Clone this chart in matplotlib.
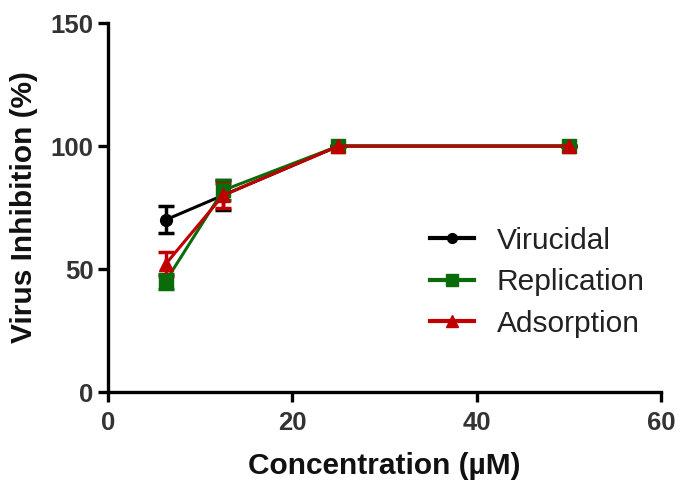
import matplotlib
matplotlib.use('Agg')
import matplotlib.pyplot as plt

plt.rcParams['font.family'] = ['Liberation Sans', 'DejaVu Sans']

conc = [6.25, 12.5, 25, 50]

virucidal = [70, 80, 100, 100]
virucidal_err = [5.5, 6, 0, 0]

replication = [45, 82, 100, 100]
replication_err = [3, 4, 0, 0]

adsorption = [52, 80, 100, 100]
adsorption_err = [5, 5, 0, 0]

fig = plt.figure(figsize=(6.81, 4.88), dpi=100)
ax = fig.add_axes([0.1586, 0.1967, 0.812, 0.756])

series = [
    ('Virucidal', virucidal, virucidal_err, 'black', 'o', 8.5),
    ('Replication', replication, replication_err, '#0b6b0b', 's', 10),
    ('Adsorption', adsorption, adsorption_err, '#c00000', '^', 10),
]
for label, vals, err, color, marker, ms in series:
    ax.errorbar(conc, vals, yerr=err, color=color, marker=marker, markersize=ms,
                linewidth=2.2, elinewidth=2.5, capsize=6, capthick=2.5)
    # legend proxy without error bars
    ax.plot([], [], color=color, marker=marker, markersize=ms - 1.5,
            linewidth=3, label=label)

ax.set_xlim(0, 60)
ax.set_ylim(0, 150)
ax.set_xticks([0, 20, 40, 60])
ax.set_yticks([0, 50, 100, 150])

for side in ['top', 'right']:
    ax.spines[side].set_visible(False)
for side in ['left', 'bottom']:
    ax.spines[side].set_linewidth(2.4)
ax.tick_params(width=2.4, length=7, colors='black', labelcolor='#333333')
ax.tick_params(axis='x', pad=7)
for lab in ax.get_xticklabels() + ax.get_yticklabels():
    lab.set_fontsize(18.5)
    lab.set_fontweight('bold')

ax.set_xlabel('Concentration (µM)', fontsize=21.5, fontweight='bold',
              color='#111111', labelpad=12)
ax.set_ylabel('Virus Inhibition (%)', fontsize=21.5, fontweight='bold',
              color='#111111', labelpad=9)

leg = ax.legend(loc='upper left', bbox_to_anchor=(0.56, 0.48), frameon=False,
                fontsize=21.5, handlelength=1.5, labelspacing=0.45,
                handletextpad=0.75, borderaxespad=0)
for t in leg.get_texts():
    t.set_color('#222222')

fig.savefig('out.png', dpi=100)
